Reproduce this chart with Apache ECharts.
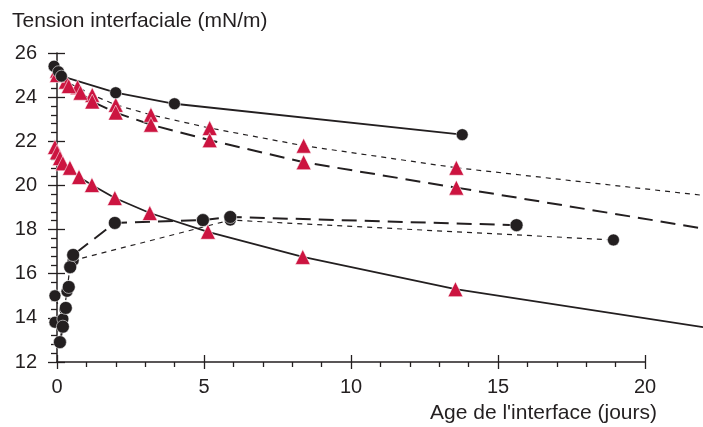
<!DOCTYPE html>
<html>
<head>
<meta charset="utf-8">
<script src="https://cdn.jsdelivr.net/npm/echarts@6/dist/echarts.min.js"></script>
<style>
  html, body { margin: 0; padding: 0; background: #fff; }
  #chart { width: 703px; height: 427px; }
</style>
</head>
<body>
<div id="chart"></div>
<script>
// axes
var xMax = 20, xStep = 5
var xDataMax = 22            // lines run on past the last tick to the edge
var yMin = 12, yMax = 26, yStep = 2

// black circles, solid line (top)
var blackSolid = [[-0.1, 25.4], [0.05, 25.15], [0.15, 24.95], [2.0, 24.2], [4.0, 23.7], [13.8, 22.3]]
// red triangles, short dashes
var redShort = [[0, 25.2], [0.3, 24.7], [0.7, 24.45], [1.2, 24.1], [2.0, 23.65], [3.2, 23.2], [5.2, 22.6], [8.4, 21.8], [13.6, 20.8]]
var redShortEnd = [13.6, 20.8, 22, 19.55]
// red triangles, long dashes
var redLong = [[0, 25.0], [0.4, 24.5], [0.8, 24.2], [1.2, 23.8], [2.0, 23.3], [3.2, 22.75], [5.2, 22.05], [8.4, 21.05], [13.6, 19.9]]
var redLongEnd = [13.6, 19.9, 22, 18.05]
// red triangles, solid line (lower)
var redSolid = [[-0.07, 21.74], [0, 21.5], [0.1, 21.24], [0.2, 21.0], [0.44, 20.8], [0.75, 20.38], [1.19, 20.02], [1.97, 19.43], [3.16, 18.75], [5.14, 17.9], [8.37, 16.76], [13.57, 15.3]]
var redSolidEnd = [13.57, 15.3, 22, 13.58]
// black circles, long dashes (rising)
var blackLong = [[0.1, 12.9], [0.2, 13.6], [0.3, 14.45], [0.4, 15.4], [0.45, 16.3], [0.55, 16.85], [1.97, 18.3], [4.97, 18.43], [5.9, 18.57], [15.65, 18.2]]
// black circles, short dashes
var blackShort = [[-0.07, 13.8], [-0.07, 15.0], [0.2, 13.95], [0.34, 15.2], [0.44, 16.3], [0.55, 16.6], [5.9, 18.43], [18.95, 17.53]]

var RED = '#cc1440'
var BLACK = '#231f20'
var FONT = '"Liberation Sans", Arial, sans-serif'

// the axis grid ends at x=20, the data grid goes on to x=22 (right page edge)
var PX_PER_X = 29.4
var LEFT = 57
var axisRight = 703 - LEFT - xMax * PX_PER_X
var dataRight = 703 - LEFT - xDataMax * PX_PER_X

function seg(a) { return [[a[0], a[1]], [a[2], a[3]]] }

function lineSeries(data, color, type, width, symbol, size) {
  return {
    type: 'line',
    xAxisIndex: 0,
    yAxisIndex: 0,
    data: data,
    clip: false,
    symbol: symbol,
    symbolSize: size,
    showAllSymbol: true,
    lineStyle: { color: BLACK, width: width, type: type },
    itemStyle: { color: color, borderColor: 'rgba(255,255,255,0.7)', borderWidth: 0.8 },
    emphasis: { disabled: true },
    animation: false,
    z: symbol === 'none' ? 1 : 2
  }
}

var chart = echarts.init(document.getElementById('chart'))

var axisText = { color: BLACK, fontFamily: FONT, fontSize: 20 }
var tickLine = { color: BLACK, width: 1.3 }
var hidden = { axisLine: { show: false }, axisTick: { show: false }, axisLabel: { show: false }, splitLine: { show: false } }

chart.setOption({
  animation: false,
  title: [
    { text: 'Tension interfaciale (mN/m)', left: 12, top: 11, padding: 0,
      textStyle: { color: BLACK, fontFamily: FONT, fontSize: 21, fontWeight: 'normal' } },
    { text: "Age de l'interface (jours)", right: 46, top: 403, padding: 0,
      textStyle: { color: BLACK, fontFamily: FONT, fontSize: 21, fontWeight: 'normal' } }
  ],
  grid: [
    { left: LEFT, right: dataRight, top: 53, bottom: 65 },
    { left: LEFT, right: axisRight, top: 53, bottom: 65 }
  ],
  xAxis: [
    Object.assign({ type: 'value', gridIndex: 0, min: 0, max: xDataMax }, hidden),
    {
      type: 'value', gridIndex: 1, min: 0, max: xMax, interval: xStep,
      axisLine: { show: true, lineStyle: { color: BLACK, width: 1.5 } },
      axisTick: { show: true, length: 7, lineStyle: tickLine },
      minorTick: { show: true, splitNumber: 5, length: 5, lineStyle: tickLine },
      splitLine: { show: false },
      axisLabel: Object.assign({ margin: 15 }, axisText)
    },
    {
      type: 'value', gridIndex: 1, min: 0, max: xMax, interval: xStep, position: 'bottom',
      axisLine: { show: false },
      axisTick: { show: true, inside: true, length: 7, lineStyle: tickLine },
      splitLine: { show: false },
      axisLabel: { show: false }
    }
  ],
  yAxis: [
    Object.assign({ type: 'value', gridIndex: 0, min: yMin, max: yMax }, hidden),
    {
      type: 'value', gridIndex: 1, min: yMin, max: yMax, interval: yStep,
      axisLine: { show: true, lineStyle: { color: BLACK, width: 1.5 } },
      axisTick: { show: true, length: 9, lineStyle: tickLine },
      minorTick: { show: true, splitNumber: 5, length: 6, lineStyle: tickLine },
      splitLine: { show: false },
      axisLabel: Object.assign({ margin: 20 }, axisText)
    },
    {
      type: 'value', gridIndex: 1, min: yMin, max: yMax, interval: yStep, position: 'left',
      axisLine: { show: false },
      axisTick: { show: true, inside: true, length: 8, lineStyle: tickLine },
      splitLine: { show: false },
      axisLabel: { show: false }
    }
  ],
  series: [
    lineSeries(seg(redShortEnd), RED, [5, 5], 1.2, 'none', 0),
    lineSeries(seg(redLongEnd), RED, [15, 8], 2, 'none', 0),
    lineSeries(seg(redSolidEnd), RED, 'solid', 1.8, 'none', 0),
    lineSeries(redShort, RED, [5, 5], 1.2, 'triangle', 15),
    lineSeries(redLong, RED, [15, 8], 2, 'triangle', 15),
    lineSeries(redSolid, RED, 'solid', 1.8, 'triangle', 15),
    lineSeries(blackShort, BLACK, [5, 5], 1.2, 'circle', 12),
    lineSeries(blackLong, BLACK, [15, 8], 2, 'circle', 13),
    lineSeries(blackSolid, BLACK, 'solid', 1.8, 'circle', 12)
  ]
})
</script>
</body>
</html>
